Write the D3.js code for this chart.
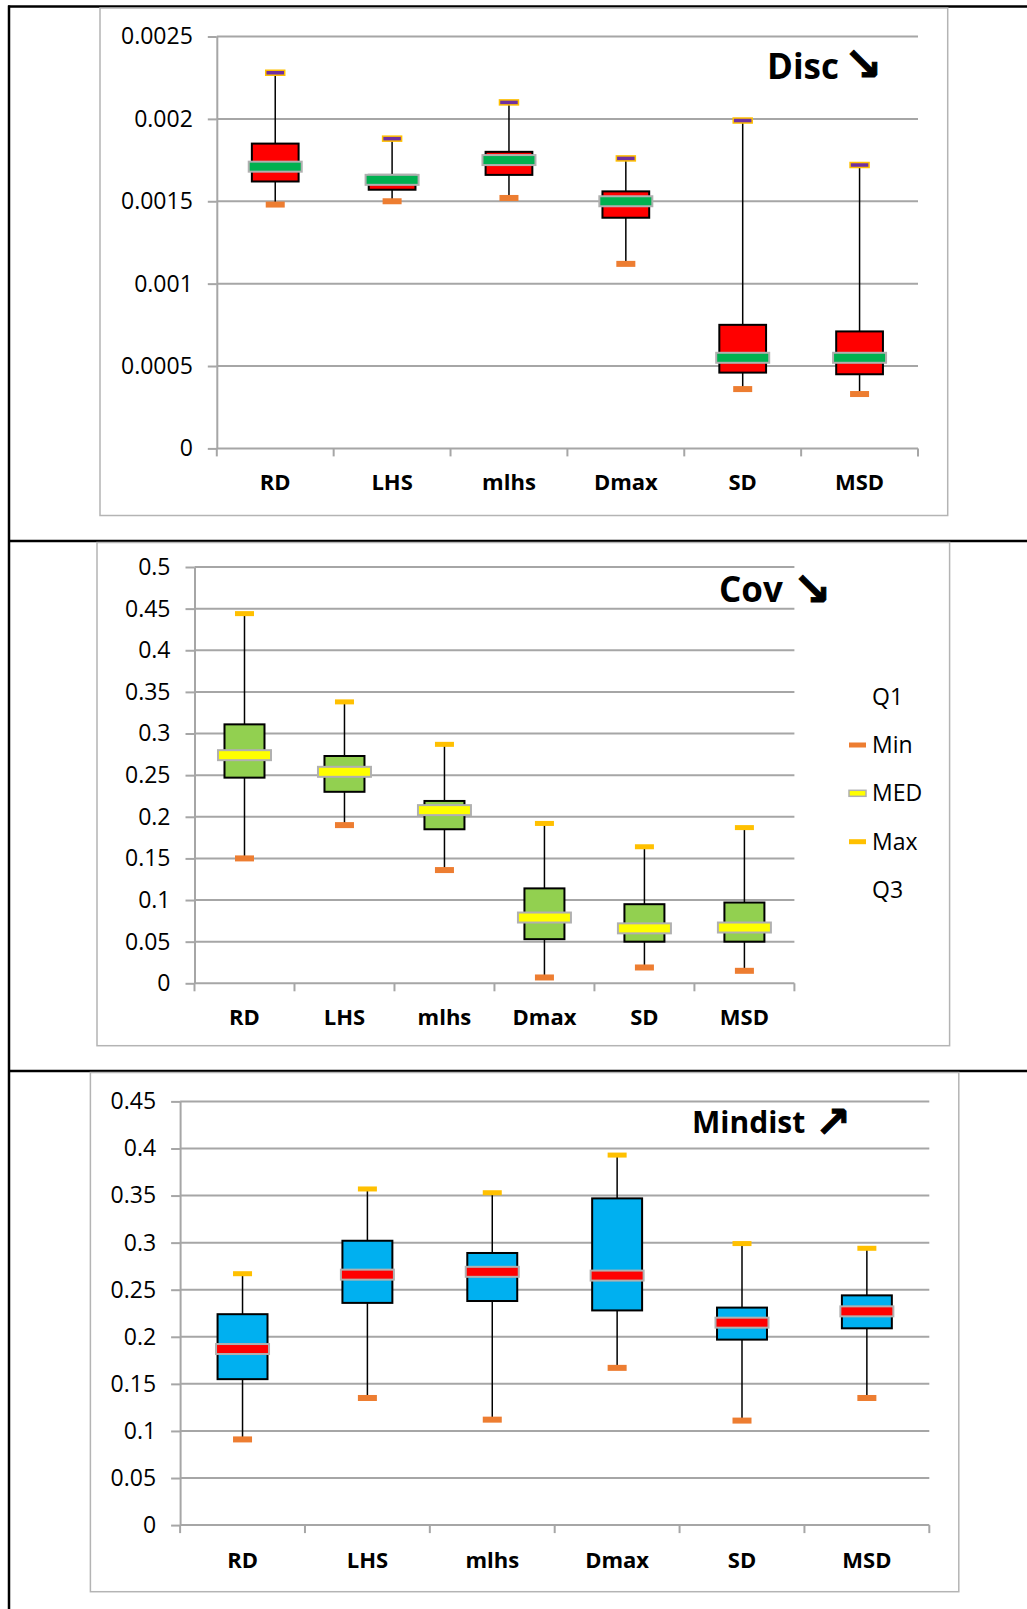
<!DOCTYPE html>
<html>
<head>
<meta charset="utf-8">
<script src="https://cdn.jsdelivr.net/npm/d3@7"></script>
<style>
  html, body { margin: 0; padding: 0; background: #fff; }
  svg { display: block; }
  text { font-family: "Open Sans", "DejaVu Sans", sans-serif; fill: #000; }
</style>
</head>
<body>
<svg id="fig" width="1027" height="1609"></svg>
<script>
// Sampling strategies compared on three criteria
const categories = ["RD", "LHS", "mlhs", "Dmax", "SD", "MSD"];

// Discrepancy (lower is better)
const discMin = [0.00148, 0.00150, 0.00152, 0.00112, 0.00036, 0.00033];
const discQ1  = [0.00162, 0.00157, 0.00166, 0.00140, 0.00046, 0.00045];
const discMed = [0.00171, 0.00163, 0.00175, 0.00150, 0.00055, 0.00055];
const discQ3  = [0.00185, 0.00166, 0.00180, 0.00156, 0.00075, 0.00071];
const discMax = [0.00228, 0.00188, 0.00210, 0.00176, 0.00199, 0.00172];
const discTicks = [0, 0.0005, 0.001, 0.0015, 0.002, 0.0025];
const discTickLabels = ["0", "0.0005", "0.001", "0.0015", "0.002", "0.0025"];

// Covariance (lower is better)
const covMin = [0.150, 0.190, 0.136, 0.007, 0.019, 0.015];
const covQ1  = [0.247, 0.230, 0.185, 0.053, 0.050, 0.050];
const covMed = [0.274, 0.254, 0.208, 0.079, 0.066, 0.067];
const covQ3  = [0.311, 0.273, 0.219, 0.114, 0.095, 0.097];
const covMax = [0.444, 0.338, 0.287, 0.192, 0.164, 0.187];
const covTicks = [0, 0.05, 0.1, 0.15, 0.2, 0.25, 0.3, 0.35, 0.4, 0.45, 0.5];
const covTickLabels = ["0", "0.05", "0.1", "0.15", "0.2", "0.25", "0.3", "0.35", "0.4", "0.45", "0.5"];

// Minimum distance (higher is better)
const mdMin = [0.091, 0.135, 0.112, 0.167, 0.111, 0.135];
const mdQ1  = [0.155, 0.236, 0.238, 0.228, 0.197, 0.209];
const mdMed = [0.187, 0.266, 0.269, 0.265, 0.215, 0.227];
const mdQ3  = [0.224, 0.302, 0.289, 0.347, 0.231, 0.244];
const mdMax = [0.267, 0.357, 0.353, 0.393, 0.299, 0.294];
const mdTicks = [0, 0.05, 0.1, 0.15, 0.2, 0.25, 0.3, 0.35, 0.4, 0.45];
const mdTickLabels = ["0", "0.05", "0.1", "0.15", "0.2", "0.25", "0.3", "0.35", "0.4", "0.45"];

const legendLabels = ["Q1", "Min", "MED", "Max", "Q3"];

const svg = d3.select("#fig");
const GRID = "#a6a6a6";
const ORANGE = "#ed7d31";
const GOLD = "#ffc000";

function rows(min, q1, med, q3, max) {
  return categories.map((c, i) => ({ c, min: min[i], q1: q1[i], med: med[i], q3: q3[i], max: max[i] }));
}

function panel(cfg) {
  const g = svg.append("g");

  // chart frame
  g.append("rect")
    .attr("x", cfg.frame[0]).attr("y", cfg.frame[1])
    .attr("width", cfg.frame[2] - cfg.frame[0]).attr("height", cfg.frame[3] - cfg.frame[1])
    .attr("fill", "#fff").attr("stroke", "#b4b4b4").attr("stroke-width", 1.5);

  const x = d3.scaleBand().domain(categories).range([cfg.plot[0], cfg.plot[2]]).padding(0);
  const y = d3.scaleLinear().domain(cfg.domain).range([cfg.plot[3], cfg.plot[1]]);

  // horizontal gridlines
  g.append("g").selectAll("line").data(cfg.ticks).join("line")
    .attr("x1", cfg.plot[0]).attr("x2", cfg.plot[2])
    .attr("y1", d => y(d)).attr("y2", d => y(d))
    .attr("stroke", GRID).attr("stroke-width", 2);

  // value axis
  const yAxis = d3.axisLeft(y).tickValues(cfg.ticks)
    .tickFormat((d, i) => cfg.tickLabels[i])
    .tickSizeInner(9).tickSizeOuter(0).tickPadding(15);
  const ya = g.append("g").attr("transform", `translate(${cfg.plot[0]},0)`).call(yAxis);
  ya.selectAll("path, line").attr("stroke", GRID).attr("stroke-width", 2);
  ya.selectAll("text").attr("font-size", 23).attr("font-family", "Open Sans");

  // category axis: boundary ticks + labels
  const bounds = categories.map(c => x(c)).concat([cfg.plot[2]]);
  g.append("g").selectAll("line").data(bounds).join("line")
    .attr("x1", d => d).attr("x2", d => d)
    .attr("y1", y(cfg.domain[0])).attr("y2", y(cfg.domain[0]) + 8)
    .attr("stroke", GRID).attr("stroke-width", 2);
  const xAxis = d3.axisBottom(x).tickSize(0).tickPadding(0);
  const xa = g.append("g").attr("transform", `translate(0,${cfg.labelY})`).call(xAxis);
  xa.select(".domain").remove();
  xa.selectAll("text").attr("font-size", 22).attr("font-weight", 700)
    .attr("font-family", "Open Sans").attr("dy", 0).attr("y", 0);

  const data = rows(...cfg.series);
  const cx = d => x(d.c) + x.bandwidth() / 2;
  const boxW = x.bandwidth() * 0.4;

  const items = g.append("g").selectAll("g").data(data).join("g");

  // whiskers
  items.append("line")
    .attr("x1", cx).attr("x2", cx)
    .attr("y1", d => y(d.max)).attr("y2", d => y(d.min))
    .attr("stroke", "#000").attr("stroke-width", 1.5);

  // interquartile boxes
  items.append("rect")
    .attr("x", d => cx(d) - boxW / 2).attr("width", boxW)
    .attr("y", d => y(d.q3)).attr("height", d => y(d.q1) - y(d.q3))
    .attr("fill", cfg.boxFill).attr("stroke", "#000").attr("stroke-width", 2);

  // median bars
  items.append("rect")
    .attr("x", d => cx(d) - 26.5).attr("width", 53)
    .attr("y", d => y(d.med) - 5).attr("height", 10)
    .attr("fill", cfg.medFill).attr("stroke", "#b0b0b0").attr("stroke-width", 2);

  // minimum markers
  items.append("rect")
    .attr("x", d => cx(d) - 9.5).attr("width", 19)
    .attr("y", d => y(d.min) - 3).attr("height", 6)
    .attr("fill", ORANGE);

  // maximum markers
  items.append("rect")
    .attr("x", d => cx(d) - 9.5).attr("width", 19)
    .attr("y", d => y(d.max) - 2.5).attr("height", 5)
    .attr("fill", cfg.maxFill)
    .attr("stroke", cfg.maxStroke || "none").attr("stroke-width", 1.5);

  // title with trend arrow
  g.append("text").attr("x", cfg.title.x).attr("y", cfg.title.y)
    .attr("font-size", cfg.title.size).attr("font-weight", 700)
    .text(cfg.title.text);
  g.append("text").attr("x", cfg.title.ax).attr("y", cfg.title.ay)
    .attr("text-anchor", "middle")
    .attr("font-size", cfg.title.asize).attr("font-weight", 700)
    .attr("font-family", "DejaVu Sans")
    .attr("stroke", "#000").attr("stroke-width", 0.9)
    .text(cfg.title.arrow);

  return { g, x, y };
}

// page rules
const rule = svg.append("g").attr("stroke", "#000");
rule.append("line").attr("x1", 8).attr("x2", 1027).attr("y1", 6.5).attr("y2", 6.5).attr("stroke-width", 2.5);
rule.append("line").attr("x1", 8).attr("x2", 1027).attr("y1", 541).attr("y2", 541).attr("stroke-width", 2.5);
rule.append("line").attr("x1", 8).attr("x2", 1027).attr("y1", 1071).attr("y2", 1071).attr("stroke-width", 2.5);
rule.append("line").attr("x1", 9).attr("x2", 9).attr("y1", 5.5).attr("y2", 1609).attr("stroke-width", 2.5);

panel({
  frame: [100, 8, 947.7, 515.5],
  plot: [216.8, 36.5, 918, 448.4],
  domain: [0, 0.0025],
  ticks: discTicks, tickLabels: discTickLabels,
  labelY: 490,
  series: [discMin, discQ1, discMed, discQ3, discMax],
  boxFill: "#ff0000", medFill: "#00b050", maxFill: "#7030a0", maxStroke: GOLD,
  title: { text: "Disc", x: 767, y: 79, size: 35, arrow: "↘", ax: 863, ay: 80, asize: 46 }
});

panel({
  frame: [97, 542.5, 949.6, 1045.7],
  plot: [194.5, 567, 794.4, 983.3],
  domain: [0, 0.5],
  ticks: covTicks, tickLabels: covTickLabels,
  labelY: 1025,
  series: [covMin, covQ1, covMed, covQ3, covMax],
  boxFill: "#92d050", medFill: "#ffff00", maxFill: GOLD,
  title: { text: "Cov", x: 719, y: 602, size: 35, arrow: "↘", ax: 812, ay: 605, asize: 46 }
});

panel({
  frame: [90.4, 1072.5, 958.8, 1591.7],
  plot: [180.1, 1101.4, 929.3, 1525.1],
  domain: [0, 0.45],
  ticks: mdTicks, tickLabels: mdTickLabels,
  labelY: 1568,
  series: [mdMin, mdQ1, mdMed, mdQ3, mdMax],
  boxFill: "#00b0f0", medFill: "#ff0000", maxFill: GOLD,
  title: { text: "Mindist", x: 692, y: 1133, size: 30, arrow: "↗", ax: 833, ay: 1136.5, asize: 43 }
});

// legend of the covariance panel
const legendY = [697, 745, 793.3, 841.7, 890];
const lg = svg.append("g").selectAll("g").data(legendLabels).join("g")
  .attr("transform", (d, i) => `translate(849,${legendY[i]})`);
lg.append("text").attr("x", 23).attr("dy", "0.35em").attr("font-size", 23).text(d => d);
lg.filter(d => d === "Min").append("rect")
  .attr("x", 0).attr("y", -2.5).attr("width", 17).attr("height", 5).attr("fill", ORANGE);
lg.filter(d => d === "Max").append("rect")
  .attr("x", 0).attr("y", -2.5).attr("width", 17).attr("height", 5).attr("fill", GOLD);
const medKey = lg.filter(d => d === "MED");
medKey.append("rect")
  .attr("x", 0).attr("y", -3).attr("width", 17).attr("height", 6)
  .attr("fill", "#ffff00").attr("stroke", "#b0b0b0").attr("stroke-width", 1.5);
</script>
</body>
</html>
